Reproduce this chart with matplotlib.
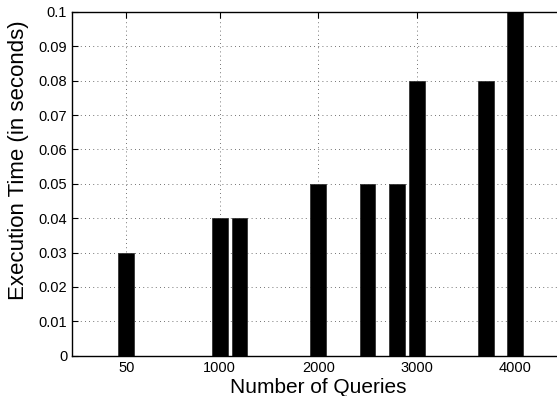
import numpy as np
import matplotlib.pyplot as plt

plt.rcParams['font.family'] = ['Liberation Sans', 'DejaVu Sans']

# Data
queries = [50, 1000, 1200, 2000, 2500, 2800, 3000, 3700, 4000]
exec_time = [0.03, 0.04, 0.04, 0.05, 0.05, 0.05, 0.08, 0.08, 0.10]
xtick_vals = [50, 1000, 2000, 3000, 4000]
ytick_vals = np.arange(0, 0.1001, 0.01)
ytick_labels = ['0', '0.01', '0.02', '0.03', '0.04', '0.05',
                '0.06', '0.07', '0.08', '0.09', '0.1']

fig = plt.figure(figsize=(5.57, 3.96), dpi=100)
ax = fig.add_axes([0.1293, 0.1018, 0.884, 0.868])

ax.bar(queries, exec_time, width=160, color='black', edgecolor='#333333',
       linewidth=0.6, zorder=3)

ax.set_xlim(-500, 4500)
ax.set_ylim(0, 0.1)
ax.set_xticks(xtick_vals)
ax.set_xticklabels([str(v) for v in xtick_vals])
ax.set_yticks(ytick_vals)
ax.set_yticklabels(ytick_labels)

ax.grid(True, color='#444444', linestyle=(0, (1, 4)), linewidth=0.6, zorder=0)
ax.tick_params(direction='in', length=4, width=0.8, labelsize=10.5,
               top=True, right=True, pad=3.5)
for s in ax.spines.values():
    s.set_linewidth(1.0)
    s.set_zorder(4)

ax.set_xlabel('Number of Queries', fontsize=15)
ax.set_ylabel('Execution Time (in seconds)', fontsize=16)
ax.xaxis.set_label_coords(0.5, -0.066)
ax.yaxis.set_label_coords(-0.087, 0.569)

fig.savefig('out.png', dpi=100)
